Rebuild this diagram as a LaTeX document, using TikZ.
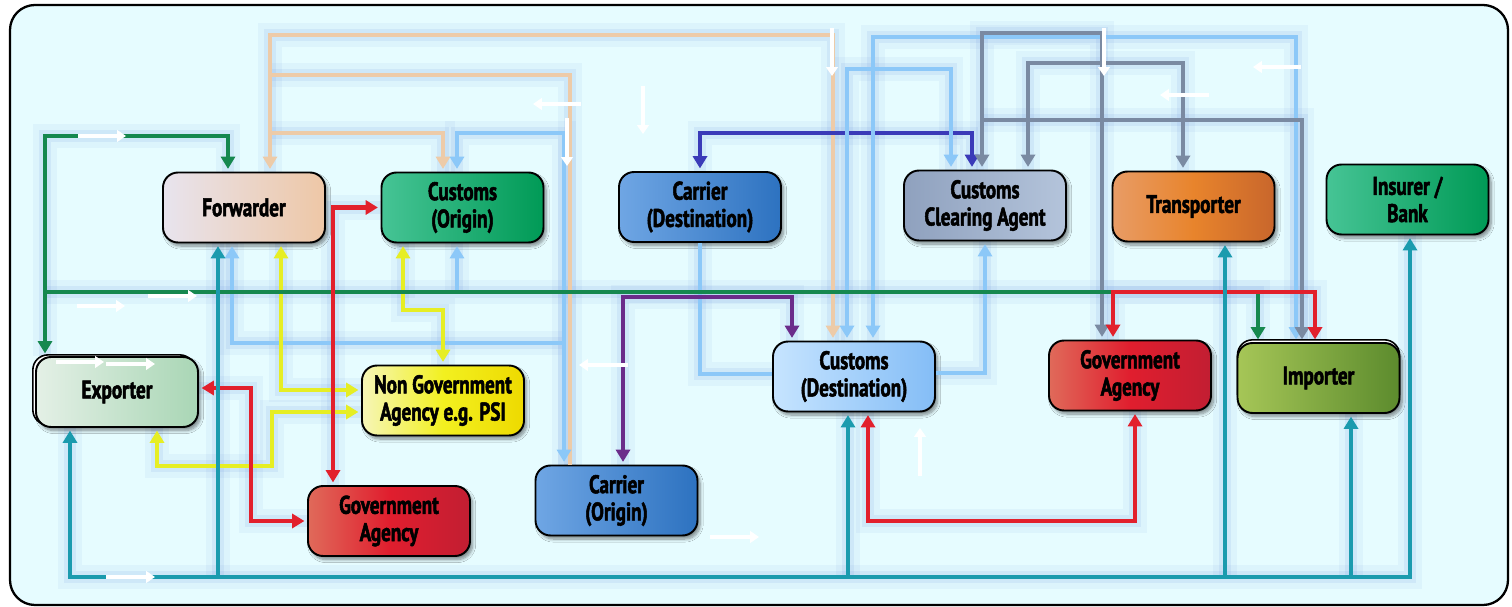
\documentclass[tikz,border=0pt]{standalone}
\usepackage{fontspec}
\usepackage{tikz}
\usetikzlibrary{arrows.meta}
\usetikzlibrary{shadows}
\usetikzlibrary{shadows.blur}
\usetikzlibrary{backgrounds}

\newfontfamily\boxfont[FakeStretch=0.75, BoldFeatures={FakeBold=2}]{PT Sans}

\definecolor{framefill}{HTML}{E6FCFF}
\definecolor{glowc}{HTML}{7096E0}
\definecolor{tanc}{HTML}{EDCBA8}
\definecolor{lbluec}{HTML}{8CC8F8}
\definecolor{indc}{HTML}{3A3AB8}
\definecolor{grayc}{HTML}{7A8AA2}
\definecolor{greenc}{HTML}{16884F}
\definecolor{redc}{HTML}{E2202C}
\definecolor{yelc}{HTML}{E6EE24}
\definecolor{tealc}{HTML}{1B9BAE}
\definecolor{purc}{HTML}{6B2C8A}
\definecolor{fwdl}{HTML}{E8E4EE}
\definecolor{fwdr}{HTML}{EEC7A6}
\definecolor{grnl}{HTML}{46C495}
\definecolor{grnr}{HTML}{009A56}
\definecolor{blul}{HTML}{6FA6E4}
\definecolor{blur}{HTML}{2D72C0}
\definecolor{ccal}{HTML}{8FA1BE}
\definecolor{ccar}{HTML}{B4C4DB}
\definecolor{trnl}{HTML}{E89C66}
\definecolor{trnm}{HTML}{E8842C}
\definecolor{trnr}{HTML}{C8662C}
\definecolor{expl}{HTML}{E4F0E6}
\definecolor{expr}{HTML}{A9D6B5}
\definecolor{ngal}{HTML}{F6F6B8}
\definecolor{ngam}{HTML}{F2F020}
\definecolor{ngar}{HTML}{EEDA00}
\definecolor{redl}{HTML}{E06A5A}
\definecolor{redm}{HTML}{E01E2E}
\definecolor{redr}{HTML}{C21E32}
\definecolor{cusdl}{HTML}{C6E4FF}
\definecolor{cusdr}{HTML}{84BDF6}
\definecolor{impl}{HTML}{A6C657}
\definecolor{impr}{HTML}{5C8B2D}

\newcommand{\routes}{%
	\draw[tanln,headboth] (fwd.north -| 270,0) -- (270,35) -- (833,35) -- (cusd.north -| 833,0);
	\draw[tanln] (tanj1) -- (570,75) -- (caro.north -| 570,0);
	\draw[tanln,headend] (tanj2) -- (443,133) -- (cuso.north -| 443,0);
	\draw[indln,headboth] (card.north) -- (700,133) -- (972,133) -- (cca.north -| 972,0);
	\draw[lbln,headboth] (cuso.north -| 457,0) -- (457,133) -- (564,133) -- (caro.north -| 564,0);
	\draw[lbln,headstart] (fwd.south -| 232,0) -- (232,343) -- (lbj1);
	\draw[lbln,headend] (lbj2) -- (cuso.south -| 457,0);
	\draw[lbln] (card.south) -- (700,374) -- (cusd.west |- 0,374);
	\draw[lbln,headend] (cusd.east |- 0,373) -- (985,373) -- (cca.south);
	\draw[lbln,headboth] (cusd.north -| 847,0) -- (847,69) -- (951,69) -- (cca.north -| 951,0);
	\draw[lbln,headboth] (cusd.north -| 873,0) -- (873,37) -- (1296,37) -- (imp.north -| 1296,0);
	\draw[grayln,headboth] (cca.north -| 982,0) -- (982,33) -- (1102,33) -- (gar.north -| 1102,0);
	\draw[grayln,headboth] (cca.north -| 1028,0) -- (1028,63) -- (1183,63) -- (trn.north -| 1183,0);
	\draw[grayln,headend] (grj) -- (1302,120) -- (imp.north -| 1302,0);
	\draw[purln,headboth] (caro.north -| 623,0) -- (623,297) -- (792,297) -- (cusd.north -| 792,0);
	\draw[yelln,headboth] (fwd.south -| 281,0) -- (281,390) -- (nga.west |- 0,390);
	\draw[yelln,headboth] (exp.south -| 157,0) -- (157,466) -- (272,466) -- (272,412) -- (nga.west |- 0,412);
	\draw[yelln,headboth] (cuso.south -| 403,0) -- (403,310) -- (443,310) -- (nga.north -| 443,0);
	\draw[grnln,headboth] (fwd.north -| 228,0) -- (228,136) -- (45,136) -- (exp.north -| 45,0);
	\draw[grnln,headend] (gnj) -- (1258,292) -- (imp.north -| 1258,0);
	\draw[redln,headboth] (cuso.west) -| (gal.north -| 333,0);
	\draw[redln,headboth] (exp.east |- 0,388) -- (251,388) |- (gal.west);
	\draw[redln,headboth] (cusd.south -| 868,0) -- (868,521) -- (1135,521) -- (gar.south -| 1135,0);
	\draw[redln,headboth] (gar.north -| 1113,0) -- (1113,292) -- (1315,292) -- (imp.north -| 1315,0);
	\draw[tealln,headboth] (exp.south -| 70,0) -- (70,577) -- (1410,577) -- (ins.south -| 1410,0);
	\draw[tealln,headend] (tej1) -- (fwd.south -| 218,0);
	\draw[tealln,headend] (tej2) -- (cusd.south -| 848,0);
	\draw[tealln,headend] (tej3) -- (trn.south -| 1225,0);
	\draw[tealln,headend] (tej4) -- (imp.south -| 1351,0);
}

\begin{document}
\begin{tikzpicture}[x=0.02cm, y=-0.02cm,
		box/.style={draw=black, line width=1.1pt, rounded corners=0.3cm, minimum width=3.24cm, minimum height=1.4cm, inner sep=0pt, align=center, text=black, font=\boxfont\bfseries\fontsize{14.5}{15.5}\selectfont, blur shadow={shadow xshift=1.5pt, shadow yshift=-2pt, shadow blur steps=8, shadow opacity=45}},
		ln/.style={line width=2.6pt},
		tanln/.style={ln, draw=tanc},
		indln/.style={ln, draw=indc},
		lbln/.style={ln, draw=lbluec},
		grayln/.style={ln, draw=grayc},
		purln/.style={ln, draw=purc},
		yelln/.style={ln, draw=yelc},
		grnln/.style={ln, draw=greenc},
		redln/.style={ln, draw=redc},
		tealln/.style={ln, draw=tealc},
		glowln/.style={draw=glowc, line width=14pt, opacity=0.08},
		glowin/.style={draw=glowc, line width=7pt, opacity=0.12},
		headend/.style={-{Triangle[width=8pt,length=7pt]}, shorten >=1.5pt},
		headstart/.style={{Triangle[width=8pt,length=7pt]}-, shorten <=1.5pt},
		headboth/.style={{Triangle[width=8pt,length=7pt]}-{Triangle[width=8pt,length=7pt]}, shorten >=1.5pt, shorten <=1.5pt},
		wharr/.style={draw=white, line width=2.4pt, -{Triangle[width=6.5pt,length=5pt]}}]
	\useasboundingbox (0,0) rectangle (1512,607);

	\node[box, left color=fwdl, right color=fwdr] (fwd) at (244,207.5) {Forwarder};
	\node[box, left color=grnl, right color=grnr] (cuso) at (462.5,207.5) {Customs\\(Origin)};
	\node[box, left color=blul, right color=blur] (card) at (700,207) {Carrier\\(Destination)};
	\node[box, left color=ccal, right color=ccar] (cca) at (985,205.5) {Customs\\Clearing Agent};
	\node[box, left color=trnl, right color=trnr, middle color=trnm] (trn) at (1193.5,206.5) {Transporter};
	\node[box, left color=grnl, right color=grnr] (ins) at (1407.5,199.5) {Insurer /\\Bank};
	\node[box, left color=expl, right color=expr, copy shadow={shadow xshift=-1.8pt, shadow yshift=1.2pt, fill=white, draw=black, line width=0.9pt}] (exp) at (117,392) {Exporter};
	\node[box, left color=ngal, right color=ngar, middle color=ngam] (nga) at (443,400.5) {Non Government\\Agency e.g. PSI};
	\node[box, left color=redl, right color=redr, middle color=redm] (gal) at (389,521) {Government\\Agency};
	\node[box, left color=blul, right color=blur] (caro) at (616.5,500.5) {Carrier\\(Origin)};
	\node[box, left color=cusdl, right color=cusdr] (cusd) at (854,376.5) {Customs\\(Destination)};
	\node[box, left color=redl, right color=redr, middle color=redm] (gar) at (1130,375.5) {Government\\Agency};
	\node[box, left color=impl, right color=impr, copy shadow={shadow xshift=0pt, shadow yshift=1.8pt, fill=white, draw=black, line width=0.9pt}] (imp) at (1318.5,378) {Importer};

	\coordinate (tanj1) at (270,75);
	\coordinate (tanj2) at (270,133);
	\coordinate (lbj1) at (564,343);
	\coordinate (lbj2) at (457,292);
	\coordinate (grj) at (982,120);
	\coordinate (gnj) at (45,292);
	\coordinate (tej1) at (218,577);
	\coordinate (tej2) at (848,577);
	\coordinate (tej3) at (1225,577);
	\coordinate (tej4) at (1351,577);

	\begin{scope}[on background layer]
		\fill[white] (0,0) rectangle (1512,607);
		\draw[fill=framefill, line width=1.3pt, rounded corners=0.5cm] (10,5) rectangle (1508,605);
	\end{scope}
	\begin{scope}[on background layer, transform canvas={xshift=2pt, yshift=-3pt}, tanln/.style={glowln}, indln/.style={glowln}, lbln/.style={glowln}, grayln/.style={glowln}, purln/.style={glowln}, yelln/.style={glowln}, grnln/.style={glowln}, redln/.style={glowln}, tealln/.style={glowln}, headend/.style={}, headboth/.style={}, headstart/.style={}]
		\routes
	\end{scope}
	\begin{scope}[on background layer, transform canvas={xshift=1.5pt, yshift=-2pt}, tanln/.style={glowin}, indln/.style={glowin}, lbln/.style={glowin}, grayln/.style={glowin}, purln/.style={glowin}, yelln/.style={glowin}, grnln/.style={glowin}, redln/.style={glowin}, tealln/.style={glowin}, headend/.style={}, headboth/.style={}, headstart/.style={}]
		\routes
	\end{scope}

	\routes

	\draw[wharr] (78,136) -- (126,136);
	\draw[wharr] (77,306) -- (125,306);
	\draw[wharr] (148,296) -- (197,296);
	\draw[wharr] (56,362) -- (104,362);
	\draw[wharr] (106,364) -- (155,364);
	\draw[wharr] (106,577) -- (155,577);
	\draw[wharr] (581,104) -- (533,104);
	\draw[wharr] (567,118) -- (567,166);
	\draw[wharr] (643,86) -- (643,134);
	\draw[wharr] (832,28) -- (832,76);
	\draw[wharr] (1104,28) -- (1104,76);
	\draw[wharr] (1301,67) -- (1253,67);
	\draw[wharr] (1209,95) -- (1160,95);
	\draw[wharr] (628,365) -- (579,365);
	\draw[wharr] (710,537) -- (759,537);
	\draw[wharr] (920,476) -- (920,428);
\end{tikzpicture}
\end{document}
